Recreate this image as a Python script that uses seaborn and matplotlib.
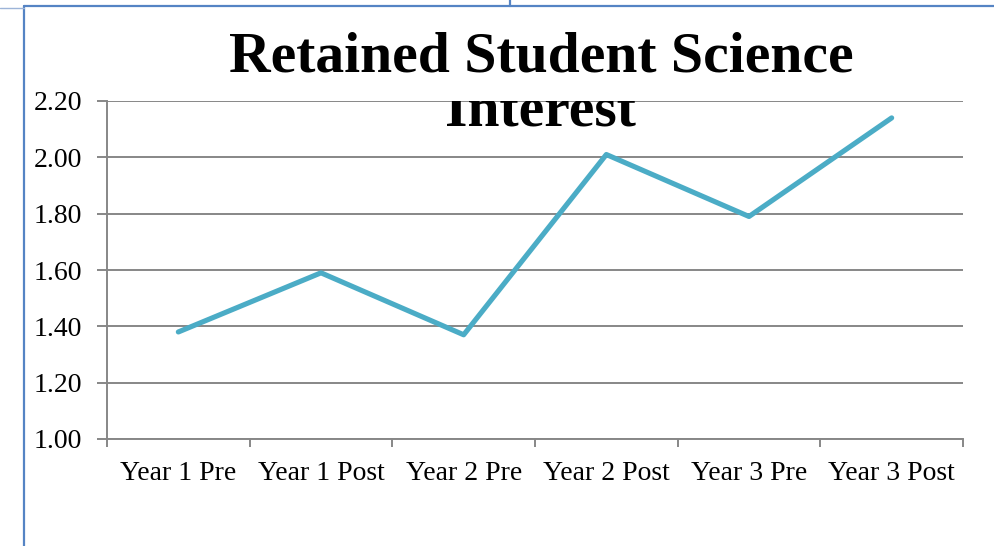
import matplotlib
matplotlib.use("Agg")
import matplotlib.pyplot as plt
import seaborn as sns
import pandas as pd
from matplotlib.lines import Line2D
from matplotlib.patches import Rectangle
from matplotlib.ticker import FixedLocator, MultipleLocator, FormatStrFormatter

categories = ["Year 1 Pre", "Year 1 Post", "Year 2 Pre", "Year 2 Post", "Year 3 Pre", "Year 3 Post"]
values = [1.38, 1.59, 1.37, 2.01, 1.79, 2.14]
title_lines = ["Retained Student Science", "Interest"]

sns.set_theme(style="white")
plt.rcParams["font.family"] = ["Liberation Serif", "DejaVu Serif"]

W, H = 994, 546
fig = plt.figure(figsize=(W / 100, H / 100), dpi=100)
fig.patch.set_facecolor("white")

ax = fig.add_axes([107 / W, 1 - 439 / H, (963 - 107) / W, (439 - 101) / H])
ax.set_facecolor("white")

df = pd.DataFrame({"cat": categories, "val": values})
df["pos"] = range(len(categories))
sns.lineplot(data=df, x="pos", y="val", ax=ax, color="#4BACC6", linewidth=3.7,
             sort=False, solid_capstyle="round", solid_joinstyle="round", zorder=3)

grid_col = "#878787"
ax.set_xlim(-0.5, len(categories) - 0.5)
ax.set_ylim(1.0, 2.2)
ax.yaxis.set_major_locator(MultipleLocator(0.2))
ax.yaxis.set_major_formatter(FormatStrFormatter("%.2f"))
ax.grid(axis="y", color=grid_col, linewidth=1.4)
ax.set_axisbelow(True)

# category axis: ticks between categories, labels at centers
ax.xaxis.set_major_locator(FixedLocator([i - 0.5 for i in range(len(categories) + 1)]))
ax.xaxis.set_minor_locator(FixedLocator(list(range(len(categories)))))
ax.set_xticklabels([], minor=False)
ax.set_xticklabels(categories, minor=True)
ax.tick_params(axis="x", which="major", length=6, width=1.4, color=grid_col, direction="out", bottom=True)
ax.tick_params(axis="x", which="minor", length=0, pad=16, labelsize=20, labelcolor="black")
ax.tick_params(axis="y", which="major", length=7, width=1.4, color=grid_col, direction="out",
               left=True, pad=11, labelsize=20, labelcolor="black")
ax.set_xlabel("")
ax.set_ylabel("")

for s in ["top", "right"]:
    ax.spines[s].set_visible(False)
for s in ["left", "bottom"]:
    ax.spines[s].set_color(grid_col)
    ax.spines[s].set_linewidth(1.4)

# title
fig.text(541 / W, 1 - 72 / H, title_lines[0], ha="center", va="baseline",
         fontsize=41.5, fontweight="bold", color="black")
t2 = fig.text(540 / W, 1 - 125.5 / H, title_lines[1], ha="center", va="baseline",
              fontsize=41.5, fontweight="bold", color="black", zorder=5)
clip = Rectangle((0, 0), 1, 1 - 101 / H, transform=fig.transFigure)
t2.set_clip_path(clip)

# page frame lines
blue = "#5584C4"
def fl(xs, ys, color=blue, lw=1.6):
    fig.add_artist(Line2D([x / W for x in xs], [1 - y / H for y in ys],
                          color=color, linewidth=lw, transform=fig.transFigure))

fl([24, 24], [6, 546])
fl([24, 510], [6, 6])
fl([510, 510], [0, 6])
fl([510, 994], [5.5, 5.5])
fl([0, 24], [7.5, 7.5], color="#9DB4D8", lw=1.0)

fig.savefig("out.png", dpi=100, facecolor="white")
